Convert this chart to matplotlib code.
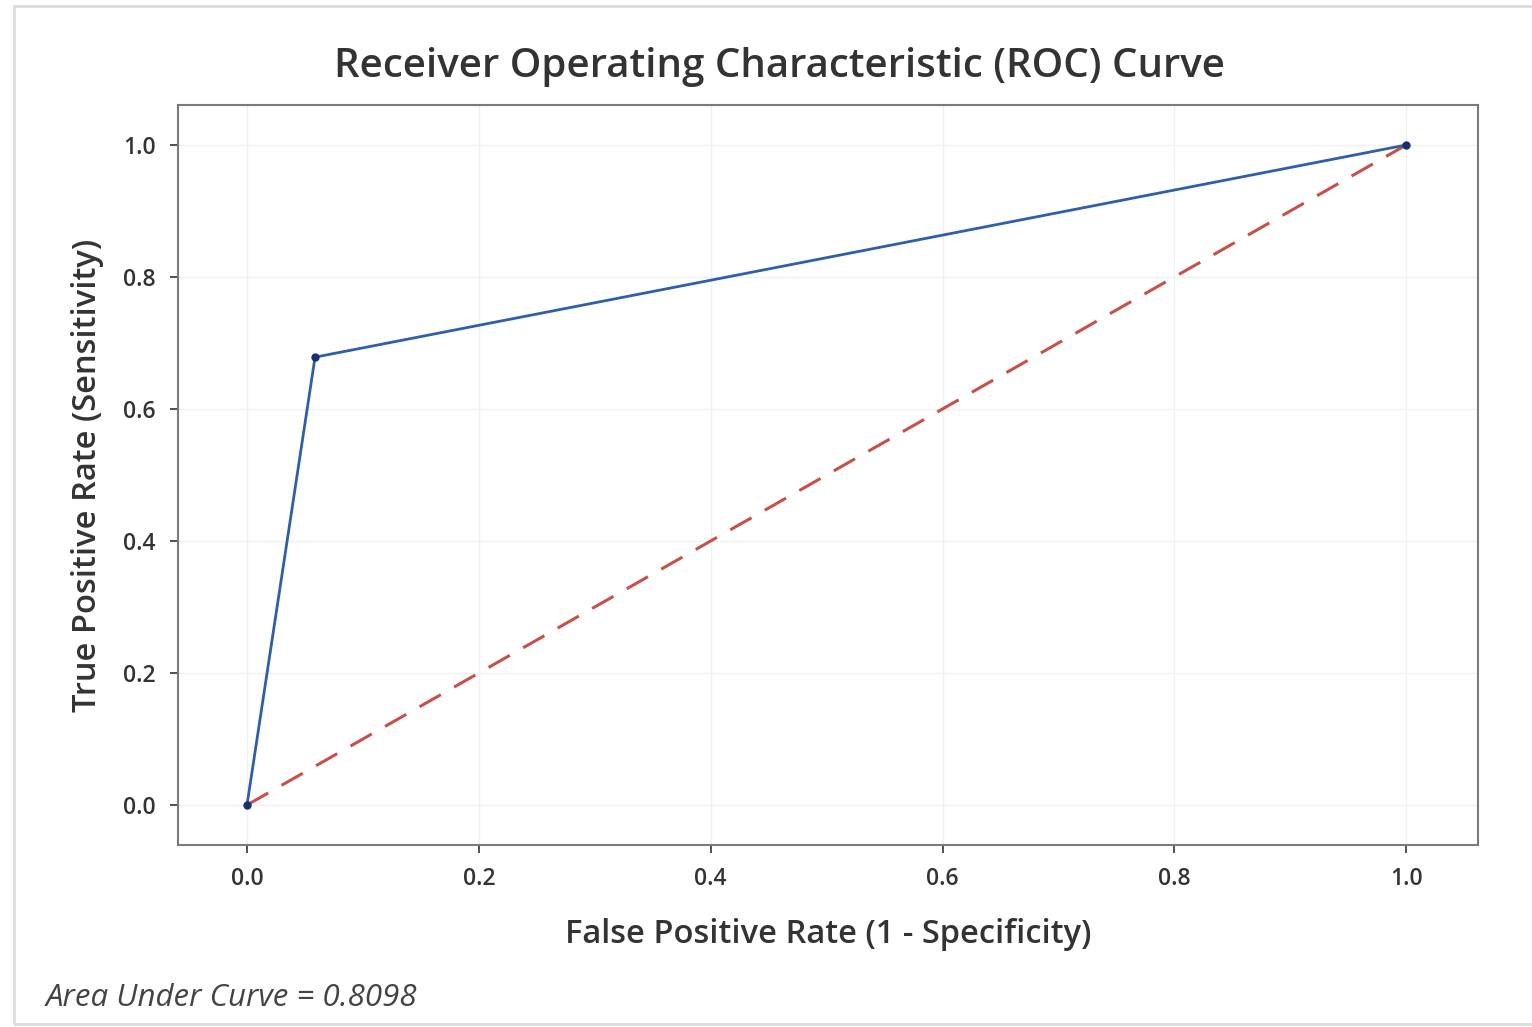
import matplotlib
matplotlib.use("Agg")
from matplotlib import pyplot as plt
from matplotlib.patches import Rectangle

# ROC points
fpr = [0.0, 0.0587, 1.0]
tpr = [0.0, 0.6785, 1.0]
chance = [0.0, 1.0]
auc = 0.8098
ticks = [0.0, 0.2, 0.4, 0.6, 0.8, 1.0]

plt.rcParams['font.family'] = ['Open Sans', 'DejaVu Sans']

fig = plt.figure(figsize=(15.32, 10.27), dpi=100)
fig.patches.append(Rectangle((0.009, 0.003), 0.995, 0.991, transform=fig.transFigure,
                             fill=False, edgecolor='#dcdcdc', linewidth=2))

ax = fig.add_axes([0.1162, 0.1772, 0.8486, 0.7206])
ax.plot(chance, chance, color='#c8504a', linestyle=(0, (8, 5)), linewidth=2.2, zorder=2)
ax.plot(fpr, tpr, color='#2f5fa8', linewidth=2.0, marker='o', markersize=5,
        markerfacecolor='#1b2e6e', markeredgecolor='#1b2e6e', zorder=3)

ax.set_xlim(-0.0595, 1.062)
ax.set_ylim(-0.0606, 1.0606)
ax.set_xticks(ticks)
ax.set_yticks(ticks)
ax.set_xticklabels([f'{t:.1f}' for t in ticks])
ax.set_yticklabels([f'{t:.1f}' for t in ticks])
ax.tick_params(axis='both', labelsize=16.5, colors='#333333', length=6, width=1.2,
               direction='out', pad=10)
for lab in ax.get_xticklabels() + ax.get_yticklabels():
    lab.set_fontweight('semibold')
ax.grid(True, color='#f0f0f0', linewidth=1)
ax.set_axisbelow(True)
for s in ax.spines.values():
    s.set_color('#7a7a7a')
    s.set_linewidth(1.5)

# title sits a bit left of the axes centre in the original
ax.set_title('Receiver Operating Characteristic (ROC) Curve', fontsize=29,
             color='#333333', fontweight='semibold', pad=20, x=0.463)
ax.set_xlabel('False Positive Rate (1 - Specificity)', fontsize=23.5, color='#333333',
              fontweight='semibold', labelpad=19)
ax.set_ylabel('True Positive Rate (Sensitivity)', fontsize=23.5, color='#333333',
              fontweight='semibold', labelpad=14)

fig.text(0.030, 0.020, f'Area Under Curve = {auc:.4f}', fontsize=22.5, style='italic',
         color='#444444', ha='left', va='baseline')

fig.savefig('out.png', dpi=100, facecolor='white')
